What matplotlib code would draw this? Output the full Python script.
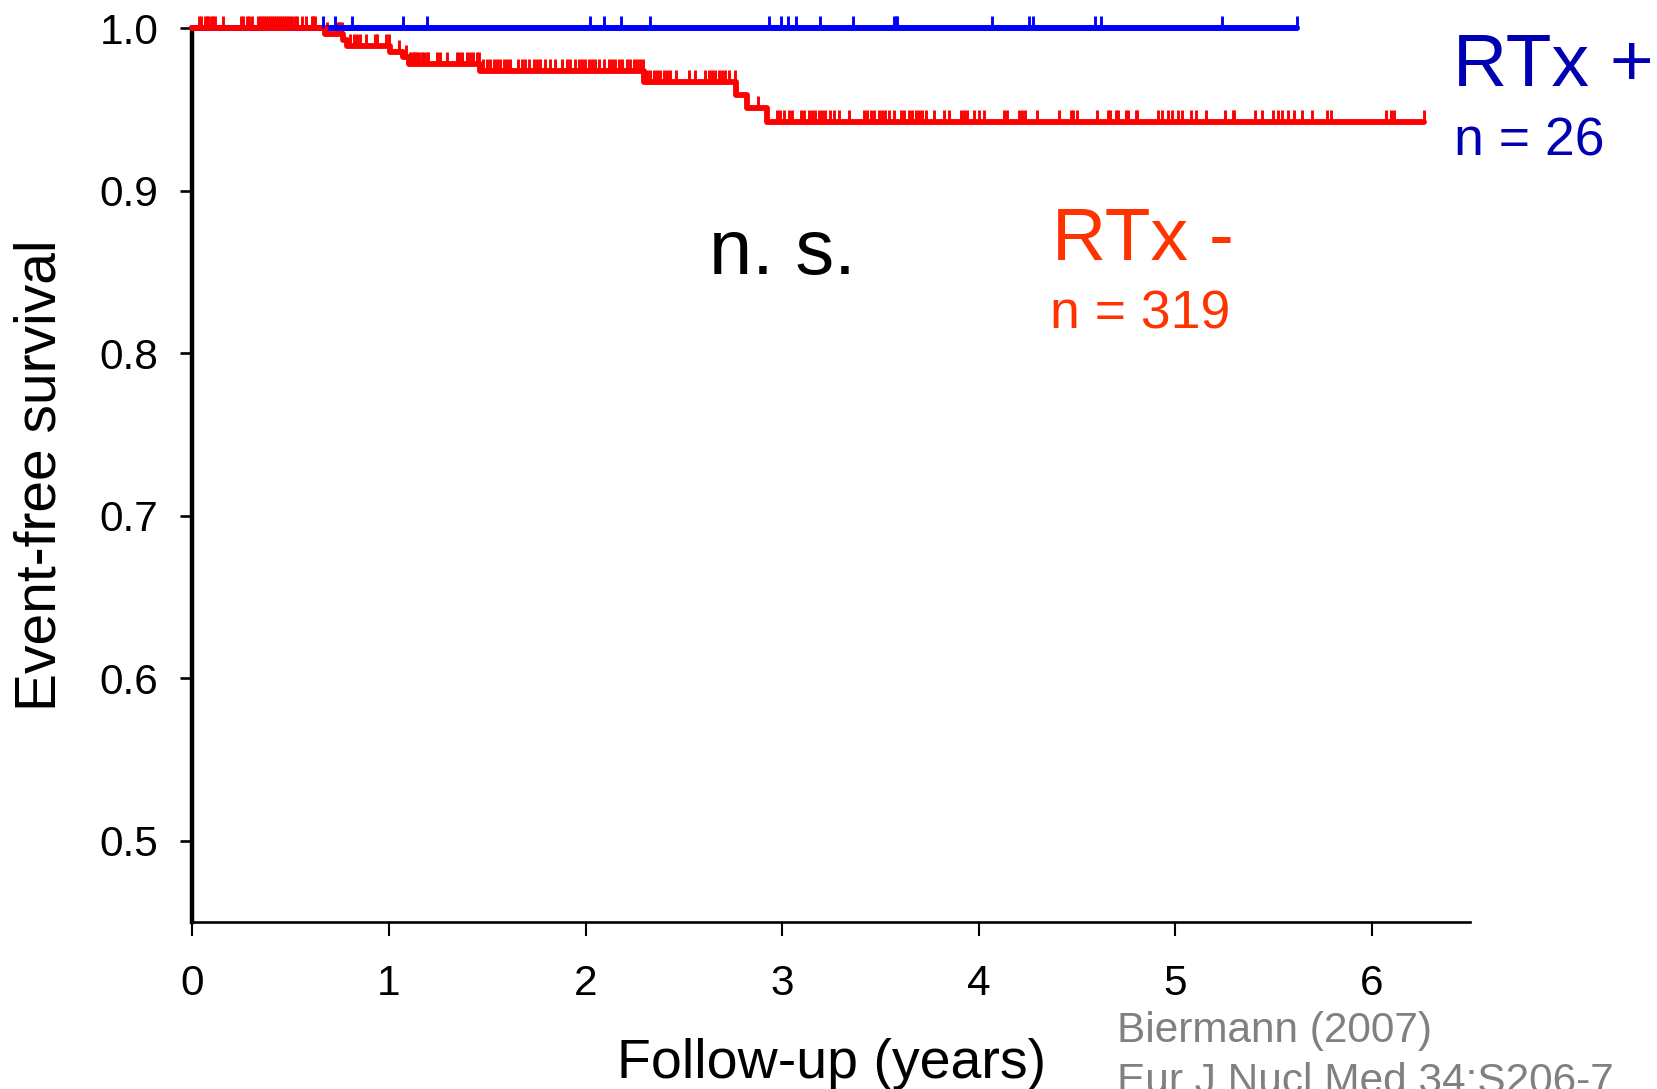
import numpy as np
import matplotlib
matplotlib.use("Agg")
import matplotlib.pyplot as plt

plt.rcParams['font.family'] = ['Liberation Sans', 'DejaVu Sans']

# ---------------- data ----------------
# RTx - (n = 319): Kaplan-Meier step times (years) and survival after each step
red_step_times = [0.0, 0.675, 0.765, 0.785, 1.006, 1.071, 1.100, 1.464,
                  2.296, 2.768, 2.822, 2.924]
red_step_surv = [1.0, 0.9963, 0.9928, 0.9891, 0.9856, 0.9821, 0.9780, 0.9739,
                 0.9671, 0.9589, 0.9507, 0.9425]
red_end = 6.268
red_censor = [
    0.035, 0.042, 0.066, 0.073, 0.081, 0.093, 0.107, 0.113, 0.157, 0.246,
    0.256, 0.276, 0.287, 0.303, 0.336, 0.344, 0.354, 0.365, 0.375, 0.385,
    0.395, 0.405, 0.415, 0.426, 0.436, 0.446, 0.456, 0.466, 0.477, 0.487,
    0.497, 0.507, 0.524, 0.534, 0.558, 0.578, 0.607, 0.616, 0.626,
    0.684, 0.738, 0.745, 0.752, 0.760,
    0.800, 0.820, 0.835, 0.853, 0.885, 0.930, 0.941, 0.985, 1.000,
    1.052, 1.087,
    1.108, 1.117, 1.125, 1.133, 1.145, 1.155, 1.167, 1.179, 1.193, 1.201,
    1.244, 1.261, 1.295, 1.346, 1.354, 1.371, 1.397, 1.410, 1.430, 1.448, 1.456,
    1.481, 1.498, 1.515, 1.532, 1.549, 1.566, 1.583, 1.600, 1.617, 1.659,
    1.676, 1.693, 1.710, 1.736, 1.753, 1.770, 1.795, 1.821, 1.846, 1.880,
    1.906, 1.923, 1.948, 1.965, 1.982, 1.999, 2.016, 2.033, 2.050, 2.067,
    2.092, 2.118, 2.135, 2.152, 2.169, 2.186, 2.211, 2.228, 2.245, 2.262,
    2.279, 2.290,
    2.313, 2.330, 2.347, 2.364, 2.381, 2.398, 2.415, 2.432, 2.458, 2.525,
    2.559, 2.610, 2.627, 2.644, 2.661, 2.678, 2.695, 2.712, 2.729, 2.763,
    2.876,
    2.975, 2.992, 3.009, 3.034, 3.051, 3.094, 3.111, 3.136, 3.153, 3.170,
    3.187, 3.204, 3.221, 3.246, 3.263, 3.289, 3.340, 3.416, 3.433, 3.450,
    3.467, 3.492, 3.509, 3.526, 3.543, 3.569, 3.603, 3.620, 3.645, 3.662,
    3.679, 3.696, 3.713, 3.730, 3.772, 3.823, 3.849, 3.908, 3.925, 3.942,
    3.976, 4.001, 4.027, 4.129, 4.146, 4.205,
    4.222, 4.234, 4.295, 4.409, 4.468, 4.482, 4.499, 4.601, 4.658, 4.669,
    4.697, 4.709, 4.748, 4.760, 4.800, 4.808, 4.913, 4.935, 4.961, 4.986,
    5.015, 5.037, 5.080, 5.105, 5.156, 5.253, 5.292, 5.300, 5.406, 5.440,
    5.499, 5.521, 5.543, 5.572, 5.606, 5.645, 5.696, 5.772, 5.793, 6.072,
    6.098, 6.111, 6.268,
]

# RTx + (n = 26): no events, only censored observations
blue_step_times = [0.0]
blue_step_surv = [1.0]
blue_end = 5.621
blue_censor = [0.665, 0.723, 0.814, 1.074, 1.193, 2.025, 2.092, 2.181,
               2.330, 2.932, 2.993, 3.031, 3.072, 3.195, 3.360, 3.569,
               3.580, 3.586, 4.070, 4.256, 4.277, 4.591, 4.621, 5.237, 5.621]

xticks = [0, 1, 2, 3, 4, 5, 6]
yticks = [0.5, 0.6, 0.7, 0.8, 0.9, 1.0]

red_color = '#FF0000'
blue_color = '#0000FF'


def surv_at(times, surv, t):
    times = np.asarray(times)
    surv = np.asarray(surv)
    idx = np.searchsorted(times, np.asarray(t), side='right') - 1
    return surv[idx]


# ---------------- figure ----------------
W, H = 1658, 1089
fig = plt.figure(figsize=(W / 100, H / 100), dpi=100)
ax_left, ax_right = 192.4 / W, 1470 / W
ax_top, ax_bottom = 1 - 28.3 / H, 1 - 922 / H
ax = fig.add_axes([ax_left, ax_bottom, ax_right - ax_left, ax_top - ax_bottom])

# blue curve
bx = list(blue_step_times) + [blue_end]
by = list(blue_step_surv) + [blue_step_surv[-1]]
ax.step(bx, by, where='post', color=blue_color, lw=4.3, zorder=3,
        clip_on=False, solid_capstyle='round')
# red curve
rx = list(red_step_times) + [red_end]
ry = list(red_step_surv) + [red_step_surv[-1]]
ax.step(rx, ry, where='post', color=red_color, lw=4.2, zorder=4,
        clip_on=False, solid_capstyle='round')

# censor marks
ax.plot(red_censor, surv_at(red_step_times, red_step_surv, red_censor),
        linestyle='none', marker=2, markersize=9, markeredgewidth=2.1,
        color=red_color, zorder=2, clip_on=False)
ax.plot(blue_censor, surv_at(blue_step_times, blue_step_surv, blue_censor),
        linestyle='none', marker=2, markersize=9, markeredgewidth=2.1,
        color=blue_color, zorder=5, clip_on=False)

ax.set_xlim(0, 6.5)
ax.set_ylim(0.45, 1.0)
ax.set_xticks(xticks)
ax.set_xticklabels([str(v) for v in xticks])
ax.set_yticks(yticks)
ax.set_yticklabels([f'{v:.1f}' for v in yticks])

for s in ['top', 'right']:
    ax.spines[s].set_visible(False)
ax.spines['left'].set_linewidth(3.2)
ax.spines['bottom'].set_linewidth(1.9)
ax.tick_params(axis='y', length=9, width=1.9, pad=15.5, labelsize=30.5)
ax.tick_params(axis='x', length=10, width=1.5, pad=20, labelsize=30.5)

ax.set_xlabel('Follow-up (years)', fontsize=40, va='baseline')
ax.xaxis.set_label_coords(0.5, (922 - 1078) / (922 - 28.3))
ax.set_ylabel('Event-free survival', fontsize=41, va='baseline')
ax.yaxis.set_label_coords((56 - 192.4) / (1470 - 192.4), 0.5)

# annotations
ax.text(2.630, 0.8486, 'n. s.', fontsize=56, color='black',
        ha='left', va='baseline')
ax.text(4.371, 0.8573, 'RTx -', fontsize=54, color='#FF3300',
        ha='left', va='baseline')
ax.text(4.365, 0.8153, 'n = 319', fontsize=38.5, color='#FF3300',
        ha='left', va='baseline')
ax.text(6.415, 0.9645, 'RTx +', fontsize=54, color='#0000B3',
        ha='left', va='baseline', clip_on=False)
ax.text(6.42, 0.9220, 'n = 26', fontsize=38.5, color='#0000B3',
        ha='left', va='baseline', clip_on=False)

# citation (second line runs off the bottom edge, as in the reference)
fig.text(1117 / W, 1 - 1041.7 / H, 'Biermann (2007)', fontsize=30.5,
         color='#808080', ha='left', va='baseline')
fig.text(1117 / W, 1 - 1092.8 / H, 'Eur J Nucl Med 34:S206-7', fontsize=30.5,
         color='#808080', ha='left', va='baseline')

fig.savefig('out.png', dpi=100)
